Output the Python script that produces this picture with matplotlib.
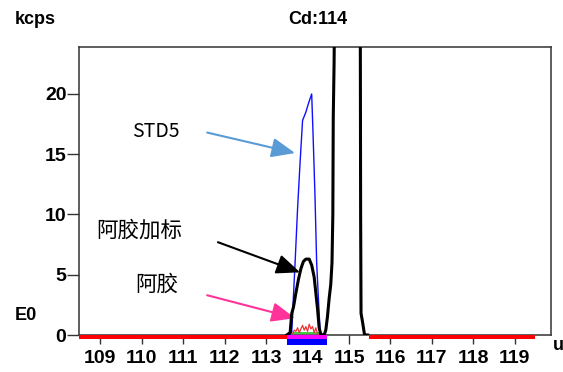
import matplotlib.pyplot as plt

plt.rcParams['font.family'] = ['Liberation Sans', 'DejaVu Sans']

# mass (u) and intensity (kcps)
spiked_mass = [113.50, 113.58, 113.62, 113.66, 113.72, 113.78, 113.84, 113.90, 113.96,
               114.04, 114.10, 114.16, 114.20, 114.24, 114.28, 114.32, 114.40, 114.44,
               114.48, 114.52, 114.56, 114.59, 114.61, 114.62, 114.64, 114.66, 114.70,
               115.22, 115.27, 115.28, 115.29, 115.33, 115.37, 115.40, 115.45]
spiked_kcps = [0.0, 0.2, 1.8, 2.3, 3.5, 4.6, 5.5, 6.1, 6.3,
               6.3, 5.8, 4.8, 3.5, 2.2, 0.6, 0.05, 0.0, 0.4,
               1.5, 3.0, 4.2, 6.0, 10.0, 18.0, 22.5, 30.0, 80.0,
               80.0, 30.0, 10.0, 1.8, 1.0, 0.1, 0.0, 0.0]

std5_mass = [113.58, 113.62, 113.65, 113.70, 113.76, 113.82, 113.88, 113.96,
             114.03, 114.10, 114.13, 114.18, 114.22, 114.28, 114.31, 114.35]
std5_kcps = [0.0, 0.3, 2.5, 6.0, 10.5, 14.3, 17.8, 18.5,
             19.3, 20.0, 17.0, 11.5, 6.0, 1.8, 0.0, 0.0]

sample_mass = [113.64, 113.68, 113.72, 113.76, 113.80, 113.84, 113.88, 113.92, 113.96,
               114.00, 114.04, 114.08, 114.12, 114.16, 114.20, 114.24, 114.28]
sample_kcps = [0.1, 0.4, 0.3, 0.6, 0.2, 0.5, 0.8, 0.4, 0.7,
               0.3, 0.9, 0.5, 0.7, 0.2, 0.6, 0.1, 0.0]

blank_mass = [113.64, 114.28]
blank_kcps = [0.15, 0.15]

# bands under the axis
red_bands = [(108.49, 113.50), (115.48, 119.48)]
window_band = (113.50, 114.46)

xticks = list(range(109, 120))
yticks = [0, 5, 10, 15, 20]

fig = plt.figure(figsize=(5.63, 3.72), dpi=100)
ax = fig.add_axes([79/563, 1-335/372, 472/563, 288/372])

ax.plot(std5_mass, std5_kcps, color='#1010ff', lw=1.0, zorder=3)
ax.plot(blank_mass, blank_kcps, color='#22bb22', lw=1.2, zorder=3)
ax.plot(sample_mass, sample_kcps, color='#ee3333', lw=0.9, zorder=4)
ax.plot(spiked_mass, spiked_kcps, color='black', lw=2.2, zorder=5)

for a, b in red_bands:
    ax.fill_between([a, b], -0.35, 0, color='red', lw=0, clip_on=False, zorder=6)
ax.fill_between(window_band, -0.35, 0, color='#ff00ff', lw=0, clip_on=False, zorder=6)
ax.fill_between(window_band, -0.8, -0.35, color='#0000ff', lw=0, clip_on=False, zorder=6)

ax.set_xlim(108.49, 119.87)
ax.set_ylim(0, 23.9)
ax.set_xticks(xticks)
ax.set_yticks(yticks)
ax.tick_params(axis='x', length=6.5, width=1, pad=4, labelsize=14, color='#333333')
ax.tick_params(axis='y', length=8.5, width=1, pad=0.5, labelsize=14, color='#333333')
for lab in ax.get_xticklabels() + ax.get_yticklabels():
    lab.set_fontweight('bold')
for sp in ax.spines.values():
    sp.set_color('#333333')
    sp.set_linewidth(1.1)

cjk = ['Noto Sans CJK SC', 'DejaVu Sans']
ax.text(110.33, 16.85, 'STD5', fontsize=14, family=cjk, ha='center', va='center')
ax.text(109.94, 8.7, '阿胶加标', fontsize=15.5, family=cjk, ha='center', va='center')
ax.text(110.37, 4.15, '阿胶', fontsize=15.5, family=cjk, ha='center', va='center')

arrow = '-|>,head_length=0.6,head_width=0.25'
ax.annotate('', xy=(113.70, 15.1), xytext=(111.58, 16.8),
            arrowprops=dict(arrowstyle=arrow, color='#5b9bd5', lw=1.5, mutation_scale=24,
                            shrinkA=0, shrinkB=0))
ax.annotate('', xy=(113.82, 5.2), xytext=(111.84, 7.7),
            arrowprops=dict(arrowstyle=arrow, color='black', lw=1.5, mutation_scale=24,
                            shrinkA=0, shrinkB=0))
ax.annotate('', xy=(113.70, 1.4), xytext=(111.58, 3.3),
            arrowprops=dict(arrowstyle=arrow, color='#ff3399', lw=1.5, mutation_scale=24,
                            shrinkA=0, shrinkB=0))

fig.text(15/563, 1-19/372, 'kcps', fontsize=13, fontweight='bold', ha='left', va='center')
fig.text(318/563, 1-19/372, 'Cd:114', fontsize=13, fontweight='bold', ha='center', va='center')
fig.text(15/563, 1-315/372, 'E0', fontsize=13, fontweight='bold', ha='left', va='center')
fig.text(558/563, 1-346/372, 'u', fontsize=13, fontweight='bold', ha='center', va='center')

fig.savefig('out.png', dpi=100)
